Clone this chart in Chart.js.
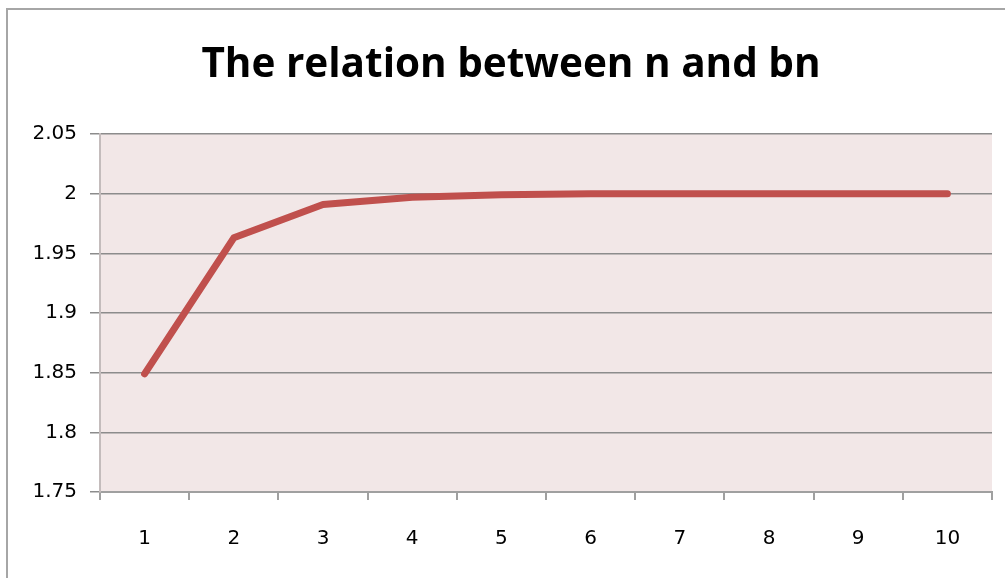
<!DOCTYPE html>
<html>
<head>
<meta charset="utf-8">
<script src="https://cdn.jsdelivr.net/npm/chart.js@4.4.0/dist/chart.umd.min.js"></script>
<style>
    html, body { margin: 0; padding: 0; background: #ffffff; }
    #wrap { position: relative; width: 1005px; height: 578px; }
</style>
</head>
<body>
<div id="wrap"><canvas id="chart" width="1005" height="578"></canvas></div>
<script>
const chartTitle = "The relation between n and bn";
const nValues = ["1", "2", "3", "4", "5", "6", "7", "8", "9", "10"];
const bnValues = [1.849, 1.963, 1.991, 1.997, 1.999, 2.0, 2.0, 2.0, 2.0, 2.0];
const yMin = 1.75;
const yMax = 2.05;
const yStep = 0.05;

// pink plot area, outer frame and title
const decor = {
    id: "decor",
    beforeDraw(chart) {
        const ctx = chart.ctx;
        const a = chart.chartArea;
        ctx.save();
        ctx.fillStyle = "#f2e7e7";
        ctx.fillRect(a.left, a.top, a.right - a.left, a.bottom - a.top);
        ctx.strokeStyle = "#a6a6a6";
        ctx.lineWidth = 2;
        ctx.strokeRect(7, 9, 1010, 580);
        ctx.restore();
    },
    afterDraw(chart) {
        const ctx = chart.ctx;
        ctx.save();
        ctx.fillStyle = "#000000";
        ctx.font = "bold 40.5px 'Open Sans'";
        ctx.textAlign = "center";
        ctx.textBaseline = "middle";
        ctx.fillText(chartTitle, 511, 65);
        ctx.restore();
    }
};

new Chart(document.getElementById("chart"), {
    type: "line",
    data: {
        labels: nValues,
        datasets: [
            {
                data: bnValues,
                borderColor: "#c0504d",
                borderWidth: 7,
                borderCapStyle: "round",
                borderJoinStyle: "round",
                pointRadius: 0,
                tension: 0,
                fill: false
            }
        ]
    },
    options: {
        responsive: false,
        animation: false,
        layout: {
            padding: { top: 134, right: 13, bottom: 0, left: 0 }
        },
        plugins: {
            legend: { display: false },
            title: { display: false },
            tooltip: { enabled: false }
        },
        scales: {
            x: {
                offset: true,
                afterFit(scale) { scale.height = 86; },
                grid: {
                    offset: true,
                    drawOnChartArea: false,
                    drawTicks: true,
                    tickLength: 8,
                    color: "#a0a0a0",
                    lineWidth: 2
                },
                border: { color: "#a0a0a0", width: 2 },
                ticks: {
                    color: "#000000",
                    padding: 27,
                    maxRotation: 0,
                    font: { family: "DejaVu Sans", size: 20 }
                }
            },
            y: {
                min: yMin,
                max: yMax,
                afterFit(scale) { scale.width = 100; },
                grid: {
                    color: "#8c8c8c",
                    lineWidth: 1.5,
                    tickLength: 10
                },
                border: { color: "#c4bcbc", width: 2 },
                ticks: {
                    stepSize: yStep,
                    color: "#000000",
                    padding: 13,
                    font: { family: "DejaVu Sans", size: 20 },
                    callback: (v) => String(Number(v.toFixed(2)))
                }
            }
        }
    },
    plugins: [decor]
});
</script>
</body>
</html>
